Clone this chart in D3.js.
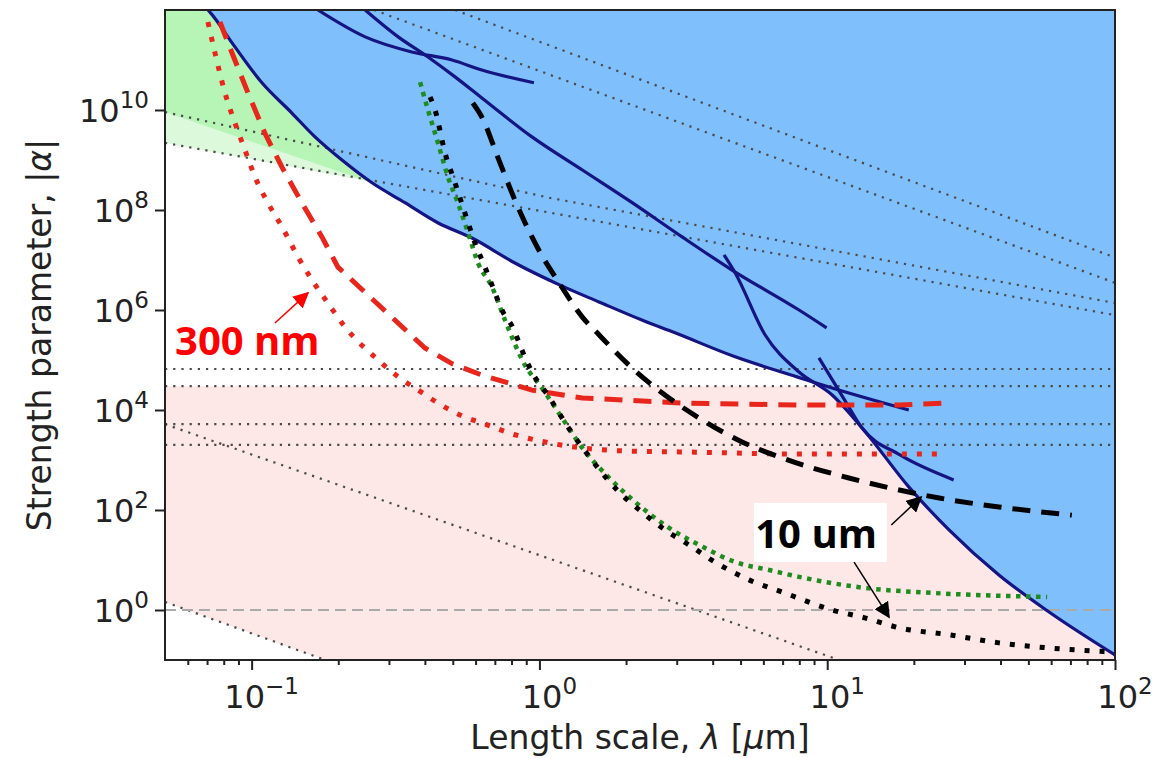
<!DOCTYPE html>
<html><head><meta charset="utf-8">
<script src="https://cdn.jsdelivr.net/npm/d3@7/dist/d3.min.js"></script>
<style>body{margin:0;background:#fff;} svg{display:block;}</style>
</head><body>
<svg id="chart" width="1158" height="758"></svg>
<script>
// ---------------- data (λ in µm, |α|) ----------------
const lambdaDomain = [0.05, 100];
const alphaDomain = [0.1, 1e12];
const xTickExps = [-1, 0, 1, 2];
const yTickExps = [0, 2, 4, 6, 8, 10];
const xMinorTicks = [0.06,0.07,0.08,0.09,0.2,0.3,0.4,0.5,0.6,0.7,0.8,0.9,2,3,4,5,6,7,8,9,20,30,40,50,60,70,80,90];

const boundaryA = [[0.0705,1e12],[0.0716,9.1e11],[0.0855,2.2e11],[0.1086,3.5e10],[0.138,8.7e9],[0.166,2.9e9],[0.206,1.0e9],[0.262,3.5e8],[0.341,1.4e8],[0.445,5.5e7],[0.583,2.75e7],[0.822,8.7e6],[1.20,3.0e6],[1.61,1.45e6],[2.27,6.3e5],[2.96,3.5e5],[4.71,1.2e5],[7.85,4.6e4],[10.4,2.75e4],[19.2,1.0e4]];
const lineB = [[0.170,1e12],[0.248,2.9e11],[0.360,1.45e11],[0.497,1.0e11],[0.631,6.3e10],[0.957,3.5e10]];
const lineC = [[0.248,1e12],[0.323,2.9e11],[0.410,1.15e11],[0.509,4.6e10],[0.631,1.74e10],[0.942,2.9e9],[1.41,6.3e8],[2.10,1.4e8],[3.13,2.9e7],[4.67,6.3e6],[7.98,1.0e6],[9.95,4.4e5]];
const lineD = [[4.38,1.26e7],[4.79,5.5e6],[6.08,3.2e5],[7.98,5.75e4],[10.4,2.0e4],[13.6,3.6e3],[19.2,290],[26.5,40],[39.5,5.0],[59,0.91],[100,0.126]];
const lineE = [[9.36,1.1e5],[11.5,1.58e4],[13.2,4.4e3],[17.9,1.26e3],[27.5,400]];

const hDotted = [6.6e4, 3.0e4, 5.2e3, 2.0e3];
const pinkTop = 3.0e4;
const unityLevel = 1;
const slopeL1 = [[0.05,9.1e9],[1.09,1.74e8],[100,1.38e6]];
const slopeL2 = [[0.05,2.2e9],[100,7.9e5]];
const slopeL3 = [[0.509,1e12],[100,1.12e7]];
const slopeL4 = [[0.266,1e12],[100,3.5e6]];
const slopeL5 = [[0.05,5.2e3],[11.0,0.1]];
const slopeL6 = [[0.05,1.45],[0.18,0.1]];
const greenEdge = [[0.05,9.1e9],[0.262,3.5e8]];
const paleGreenEdge = [[0.05,2.2e9],[0.27,3.5e8]];

const redDashed = [[0.0776,5.75e11],[0.0855,1.38e11],[0.0971,2.2e10],[0.111,3.5e9],[0.1275,7.2e8],[0.1496,1.38e8],[0.1755,2.9e7],[0.1995,7.2e6],[0.40,1.74e5],[0.50,8.3e4],[0.631,5.0e4],[0.942,2.5e4],[1.41,1.74e4],[3.13,1.38e4],[7.98,1.26e4],[17.9,1.26e4],[25.9,1.38e4]];
const redDotted = [[0.0705,5.75e11],[0.0746,1.38e11],[0.0808,2.2e10],[0.0875,5.5e9],[0.0948,1.58e9],[0.1027,4.6e8],[0.114,1.38e8],[0.1275,4.6e7],[0.145,1.15e7],[0.162,4.0e6],[0.184,1.38e6],[0.211,4.6e5],[0.275,1.0e5],[0.323,4.6e4],[0.379,2.5e4],[0.444,1.38e4],[0.551,7.2e3],[0.631,5.5e3],[0.822,3.2e3],[1.08,2.2e3],[1.41,1.74e3],[2.10,1.5e3],[3.13,1.45e3],[7.98,1.32e3],[25.9,1.32e3]];
const greenDotted = [[0.385,3.6e10],[0.410,1e10],[0.444,2.2e9],[0.481,4.6e8],[0.521,1.38e8],[0.565,3.5e7],[0.612,8.7e6],[0.684,2.9e6],[0.759,6.3e5],[0.891,7.9e4],[1.02,2.75e4],[1.20,6.9e3],[1.41,1.74e3],[1.75,437],[2.15,145],[2.82,44],[3.59,20],[4.79,9.1],[6.28,6.3],[7.98,4.6],[13.6,2.75],[23.1,2.2],[58.1,1.82]];
const blackDotted = [[0.417,1.82e10],[0.434,1e10],[0.470,1.38e9],[0.509,3.5e8],[0.551,8.7e7],[0.597,2.2e7],[0.647,7.2e6],[0.701,2.2e6],[0.741,1e6],[0.816,4.0e5],[0.855,2.0e5],[0.942,5.75e4],[1.08,1.82e4],[1.23,5.5e3],[1.52,1e3],[1.89,229],[2.27,91],[2.73,40],[3.31,20],[4.07,9.1],[5.35,4.0],[6.96,2.3],[10.4,1.0],[13.6,0.69],[17.8,0.44],[26.5,0.32],[39.5,0.22],[59,0.174],[96,0.145]];
const blackDashed = [[0.587,1.38e10],[0.631,7.2e9],[0.723,1e9],[0.822,1.58e8],[0.995,1.58e7],[1.17,3.5e6],[1.41,7.2e5],[1.61,3.2e5],[2.10,6.9e4],[2.73,2e4],[3.59,6.9e3],[5.06,2.3e3],[6.96,1.1e3],[11.9,437],[17.8,251],[24.5,174],[39.5,115],[70.8,79]];

// annotations (data coords)
const label300 = {text:"300 nm", at:[0.0542,1.26e5], arrow:[[0.1205,5.5e5],[0.157,2.2e6]]};
const label10 = {text:"10 um", box:[[5.56,138],[16.1,9.1]], at:[9.15,17.4], arrows:[[[16.7,50],[21.2,182]],[[12.4,9.1],[16.4,0.72]]]};

// ---------------- drawing ----------------
const svg = d3.select("#chart");
const X0=165, X1=1115, Y0=660, Y1=10;
const x = d3.scaleLog().domain(lambdaDomain).range([X0,X1]);
const y = d3.scaleLog().domain(alphaDomain).range([Y0,Y1]);
const line = d3.line().x(d=>x(d[0])).y(d=>y(d[1]));
const smooth = d3.line().x(d=>x(d[0])).y(d=>y(d[1])).curve(d3.curveMonotoneX);

const defs = svg.append("defs");
defs.append("clipPath").attr("id","plotclip").append("rect")
  .attr("x",X0).attr("y",Y1).attr("width",X1-X0).attr("height",Y0-Y1);
function marker(id,color,size){
  defs.append("marker").attr("id",id).attr("viewBox","0 0 10 10").attr("refX",9).attr("refY",5)
    .attr("markerUnits","userSpaceOnUse").attr("markerWidth",size).attr("markerHeight",size)
    .attr("orient","auto").append("path").attr("d","M0,0 L10,5 L0,10 z").attr("fill",color);
}
marker("arrRed","#ff0000",16);
marker("arrBlack","#000",16);

const plot = svg.append("g").attr("clip-path","url(#plotclip)");
const aTop = alphaDomain[1], aBot = alphaDomain[0];

function regionAbove(edge){
  return line(edge) + "L" + x(edge[edge.length-1][0]) + "," + y(aTop) + "L" + x(edge[0][0]) + "," + y(aTop) + "Z";
}
plot.append("path").attr("d",regionAbove(paleGreenEdge)).attr("fill","#dcf9dc");
plot.append("path").attr("d",regionAbove(greenEdge)).attr("fill","#b7f5b7");

const pinkLower = slopeL6.concat([[lambdaDomain[1],aBot]]);
const pinkPath = line(pinkLower) + "L" + x(lambdaDomain[1]) + "," + y(pinkTop) + "L" + x(lambdaDomain[0]) + "," + y(pinkTop) + "Z";
plot.append("path").attr("d",pinkPath).attr("fill","#fde7e7");

const blueEdge = boundaryA.filter(d=>d[0]<=7.9).concat(lineD.filter(d=>d[0]>=10));
const bluePath = smooth(blueEdge) + "L" + x(lambdaDomain[1]) + "," + y(aTop) + "L" + x(blueEdge[0][0]) + "," + y(aTop) + "Z";
plot.append("path").attr("d",bluePath).attr("fill","#7fbffc");

const dotStyle = s => s.attr("fill","none").attr("stroke","#4a4a4a").attr("stroke-width",2.2).attr("stroke-dasharray","2.2,6");
hDotted.forEach(v => dotStyle(plot.append("path").attr("d",line([[lambdaDomain[0],v],[lambdaDomain[1],v]]))));
[slopeL1,slopeL2,slopeL3,slopeL4,slopeL5,slopeL6].forEach(l => dotStyle(plot.append("path").attr("d",line(l))));
plot.append("path").attr("d",line([[lambdaDomain[0],unityLevel],[lambdaDomain[1],unityLevel]]))
  .attr("fill","none").attr("stroke","#aaa").attr("stroke-width",2).attr("stroke-dasharray","11,6");

[boundaryA,lineB,lineC,lineD,lineE].forEach(l => plot.append("path").attr("d",smooth(l))
  .attr("fill","none").attr("stroke","#141482").attr("stroke-width",3.2));

plot.append("path").attr("d",smooth(redDotted)).attr("fill","none").attr("stroke","#e8261c")
  .attr("stroke-width",5).attr("stroke-dasharray","5,10");
plot.append("path").attr("d",line(redDashed)).attr("fill","none").attr("stroke","#e8261c")
  .attr("stroke-width",5).attr("stroke-dasharray","18,11");
plot.append("path").attr("d",smooth(greenDotted)).attr("fill","none").attr("stroke","#1e8c1e")
  .attr("stroke-width",4.5).attr("stroke-dasharray","4.5,5.5");
plot.append("path").attr("d",smooth(blackDotted)).attr("fill","none").attr("stroke","#000")
  .attr("stroke-width",5).attr("stroke-dasharray","5,10");
plot.append("path").attr("d",smooth(blackDashed)).attr("fill","none").attr("stroke","#000")
  .attr("stroke-width",5).attr("stroke-dasharray","18,11");

svg.append("rect").attr("x",X0).attr("y",Y1).attr("width",X1-X0).attr("height",Y0-Y1)
  .attr("fill","none").attr("stroke","#222").attr("stroke-width",2);

const axisB = d3.axisBottom(x).tickValues(xTickExps.map(e=>Math.pow(10,e))).tickSize(10).tickFormat("");
const gx = svg.append("g").attr("transform",`translate(0,${Y0})`).call(axisB);
const gxm = svg.append("g").attr("transform",`translate(0,${Y0})`).call(d3.axisBottom(x).tickValues(xMinorTicks).tickSize(5).tickFormat(""));
const gy = svg.append("g").attr("transform",`translate(${X0},0)`).call(d3.axisLeft(y).tickValues(yTickExps.map(e=>Math.pow(10,e))).tickSize(10).tickFormat(""));
[gx,gxm,gy].forEach(g=>{g.select(".domain").remove(); g.selectAll("line").attr("stroke","#222").attr("stroke-width",2);});

const FONT = "DejaVu Sans";
function powLabel(g, e, px, py, anchor){
  const t = g.append("text").attr("x",px).attr("y",py).attr("text-anchor",anchor)
    .attr("font-family",FONT).attr("font-size",32).attr("fill","#222");
  t.append("tspan").text("10");
  t.append("tspan").attr("dy",-14).attr("font-size",23).text(e<0 ? "\u2212"+(-e) : String(e));
}
xTickExps.forEach(e => powLabel(svg, e, x(Math.pow(10,e))+10, 708, "middle"));
yTickExps.forEach(e => powLabel(svg, e, 149, y(Math.pow(10,e))+12, "end"));

const xt = svg.append("text").attr("x",(X0+X1)/2).attr("y",749).attr("text-anchor","middle")
  .attr("font-family",FONT).attr("font-size",33).attr("fill","#222");
xt.append("tspan").text("Length scale, ");
xt.append("tspan").attr("font-style","italic").text("\u03bb");
xt.append("tspan").text(" [");
xt.append("tspan").attr("font-style","italic").text("\u03bc");
xt.append("tspan").text("m]");
const yt = svg.append("text").attr("transform",`translate(51,${(Y0+Y1)/2}) rotate(-90)`).attr("text-anchor","middle")
  .attr("font-family",FONT).attr("font-size",33).attr("fill","#222");
yt.append("tspan").text("Strength parameter, |");
yt.append("tspan").attr("font-style","italic").text("\u03b1");
yt.append("tspan").text("|");

svg.append("line").attr("x1",x(label300.arrow[0][0])).attr("y1",y(label300.arrow[0][1]))
  .attr("x2",x(label300.arrow[1][0])).attr("y2",y(label300.arrow[1][1]))
  .attr("stroke","#ff0000").attr("stroke-width",1.5).attr("marker-end","url(#arrRed)");
svg.append("text").attr("x",x(label300.at[0])).attr("y",y(label300.at[1]))
  .attr("font-family","Open Sans").attr("font-weight",700).attr("font-size",40).attr("fill","#ff0000").text(label300.text);

const bx0 = x(label10.box[0][0]), by0 = y(label10.box[0][1]), bx1 = x(label10.box[1][0]), by1 = y(label10.box[1][1]);
svg.append("rect").attr("x",bx0).attr("y",by0).attr("width",bx1-bx0).attr("height",by1-by0).attr("fill","#fff");
label10.arrows.forEach(a => svg.append("line").attr("x1",x(a[0][0])).attr("y1",y(a[0][1]))
  .attr("x2",x(a[1][0])).attr("y2",y(a[1][1])).attr("stroke","#000").attr("stroke-width",1.5).attr("marker-end","url(#arrBlack)"));
svg.append("text").attr("x",x(label10.at[0])).attr("y",y(label10.at[1])).attr("text-anchor","middle")
  .attr("font-family","Open Sans").attr("font-weight",700).attr("font-size",40).attr("fill","#000").text(label10.text);
</script>
</body></html>
